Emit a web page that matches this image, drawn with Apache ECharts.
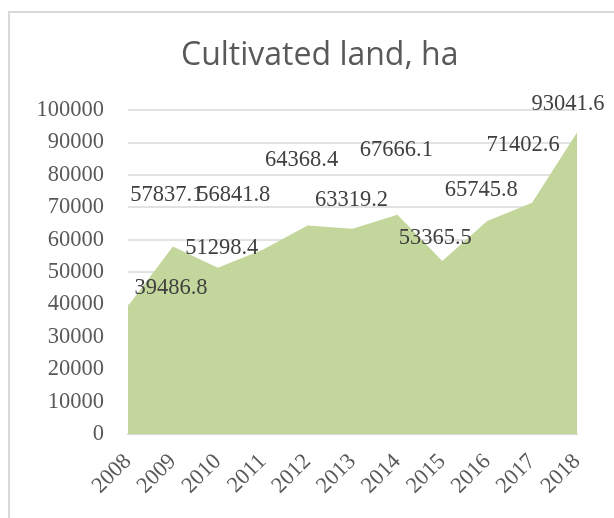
<!DOCTYPE html>
<html>
<head>
<meta charset="utf-8">
<script src="https://cdn.jsdelivr.net/npm/echarts@6/dist/echarts.min.js"></script>
<style>
html,body{margin:0;padding:0;background:#fff;}
#chart{width:614px;height:518px;}
</style>
</head>
<body>
<div id="chart"></div>
<script>
const years = ['2008','2009','2010','2011','2012','2013','2014','2015','2016','2017','2018'];
const cultivated = [39486.8, 57837.1, 51298.4, 56841.8, 64368.4, 63319.2, 67666.1, 53365.5, 65745.8, 71402.6, 93041.6];
const labelTexts = ['39486.8','57837.1','51298.4','56841.8','64368.4','63319.2','67666.1','53365.5','65745.8','71402.6','93041.6'];
// label placement offsets (layout only, px)
const labelOffsets = [[43,-18],[-6,-52],[4,-20],[-29,-55],[-6,-65],[-1,-29],[-1,-65],[-7,-23],[-6,-31],[-9,-58],[-9,-28]];

const chart = echarts.init(document.getElementById('chart'), null, {renderer:'canvas'});
const serif = '"Liberation Serif", serif';
chart.setOption({
  animation: false,
  graphic: [{
    type: 'rect', silent: true, z: -10,
    shape: {x: 9, y: 12, width: 700, height: 600},
    style: {fill: 'none', stroke: '#d9d9d9', lineWidth: 2}
  }],
  title: {
    text: 'Cultivated land, ha',
    left: 176, top: 35,
    textStyle: {fontFamily: '"Open Sans", sans-serif', fontWeight: 'normal', fontSize: 32, color: '#595959'}
  },
  grid: {left: 128, right: 37, top: 110, bottom: 84, containLabel: false},
  xAxis: {
    type: 'category', data: years, boundaryGap: false,
    axisLine: {lineStyle: {color: '#d9d9d9', width: 2}},
    axisTick: {show: false},
    axisLabel: {rotate: 45, margin: 24, fontFamily: serif, fontSize: 22.5, color: '#595959', interval: 0}
  },
  yAxis: {
    type: 'value', min: 0, max: 100000, interval: 10000,
    axisLine: {show: false}, axisTick: {show: false},
    splitLine: {lineStyle: {color: '#d9d9d9', width: 1.5}},
    axisLabel: {margin: 24, fontFamily: serif, fontSize: 22.5, color: '#595959', formatter: v => String(v)}
  },
  series: [{
    type: 'line',
    data: cultivated.map((v, i) => ({
      value: v,
      label: {offset: labelOffsets[i]}
    })),
    symbol: 'circle', symbolSize: 1, showSymbol: true,
    itemStyle: {color: 'rgba(0,0,0,0)'},
    lineStyle: {width: 0},
    areaStyle: {color: '#c3d69b', opacity: 1},
    label: {
      show: true, position: 'inside',
      formatter: p => labelTexts[p.dataIndex],
      fontFamily: serif, fontSize: 22.5, color: '#404040'
    }
  }]
});
</script>
</body>
</html>
